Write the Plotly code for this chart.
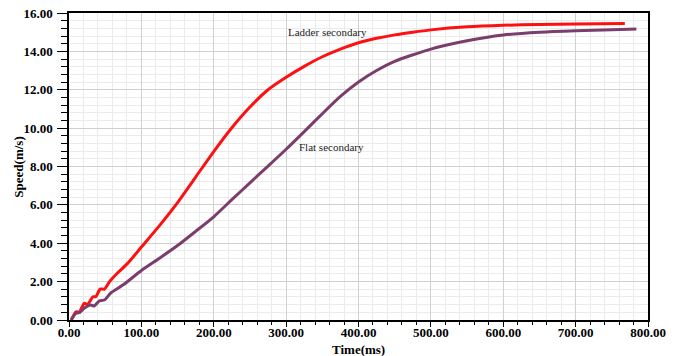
import plotly.graph_objects as go

# Ladder secondary (red)
ladder_t = [3, 9.7, 14, 21, 26, 33, 37, 43, 49, 56, 67, 81, 100, 125, 150, 175, 200, 225, 250, 275, 300, 325, 350, 375, 400, 425, 450, 475, 500, 550, 600, 650, 700, 768]
ladder_v = [0, 0.43, 0.40, 0.87, 0.82, 1.21, 1.21, 1.61, 1.61, 2.0, 2.45, 2.95, 3.8, 4.92, 6.12, 7.45, 8.78, 10.02, 11.1, 12.0, 12.65, 13.22, 13.72, 14.12, 14.45, 14.68, 14.86, 15.0, 15.12, 15.28, 15.36, 15.40, 15.43, 15.45]

# Flat secondary (purple)
flat_t = [3, 9.7, 15, 21, 30, 35, 42, 49, 58, 76, 100, 125, 150, 175, 200, 225, 250, 275, 300, 325, 350, 375, 400, 425, 450, 500, 550, 600, 650, 700, 750, 784]
flat_v = [0, 0.35, 0.40, 0.61, 0.78, 0.73, 1.0, 1.04, 1.42, 1.86, 2.58, 3.22, 3.88, 4.62, 5.38, 6.27, 7.15, 8.02, 8.9, 9.82, 10.75, 11.65, 12.4, 13.0, 13.48, 14.12, 14.55, 14.85, 15.0, 15.08, 15.13, 15.16]

x_ticks = [0, 100, 200, 300, 400, 500, 600, 700, 800]
y_ticks = [0, 2, 4, 6, 8, 10, 12, 14, 16]

font_fam = "Liberation Serif, serif"

fig = go.Figure()
fig.add_trace(go.Scatter(x=ladder_t, y=ladder_v, mode="lines", line=dict(color="#ff1010", width=3, shape="spline", smoothing=0.6), name="Ladder secondary"))
fig.add_trace(go.Scatter(x=flat_t, y=flat_v, mode="lines", line=dict(color="#7b3d6c", width=3, shape="spline", smoothing=0.6), name="Flat secondary"))

fig.add_annotation(x=357, y=15.0, text="Ladder secondary", showarrow=False, font=dict(family=font_fam, size=11, color="#222"))
fig.add_annotation(x=363, y=9.0, text="Flat secondary", showarrow=False, font=dict(family=font_fam, size=11, color="#222"))

# axis titles as annotations for exact placement
fig.add_annotation(xref="paper", yref="paper", x=-0.0871, y=0.498, xanchor="center", yanchor="middle",
                   text="Speed(m/s)", textangle=-90,
                   showarrow=False, font=dict(family=font_fam, size=13, weight="bold", color="black"))
fig.add_annotation(xref="paper", yref="paper", x=0.4996, y=-0.0945, xanchor="center", yanchor="middle",
                   text="Time(ms)",
                   showarrow=False, font=dict(family=font_fam, size=13, weight="bold", color="black"))

fig.update_layout(
    width=680, height=356,
    margin=dict(l=68.5, r=32, t=13, b=36),
    paper_bgcolor="white", plot_bgcolor="white",
    showlegend=False,
    font=dict(family=font_fam, color="black"),
    xaxis=dict(
        range=[0, 800], tickvals=x_ticks, ticktext=[f"{v:.2f}" for v in x_ticks],
        tickfont=dict(size=13, family=font_fam, weight="bold"),
        ticks="outside", ticklen=5, tickcolor="black", automargin=False, ticklabelstandoff=-5,
        ticklabeloverflow="allow",
        showline=True, linecolor="black", linewidth=1.5, mirror=True,
        showgrid=True, gridcolor="#d0d0d0", gridwidth=1, zeroline=False,
        minor=dict(dtick=20, ticks="outside", ticklen=3, tickcolor="black", showgrid=True, gridcolor="#ebebeb"),
    ),
    yaxis=dict(
        range=[0, 16], tickvals=y_ticks, ticktext=[f"{v:.2f}" for v in y_ticks],
        tickfont=dict(size=13, family=font_fam, weight="bold"),
        ticks="outside", ticklen=10, tickcolor="black", automargin=False, ticklabelstandoff=2,
        ticklabeloverflow="allow",
        showline=True, linecolor="black", linewidth=1.5, mirror=True,
        showgrid=True, gridcolor="#d0d0d0", gridwidth=1, zeroline=False,
        minor=dict(dtick=0.4, ticks="outside", ticklen=6, tickcolor="black", showgrid=True, gridcolor="#ebebeb"),
    ),
)

fig.write_html("out.html", config={"displayModeBar": False}, post_script="document.body.style.margin='0';")
